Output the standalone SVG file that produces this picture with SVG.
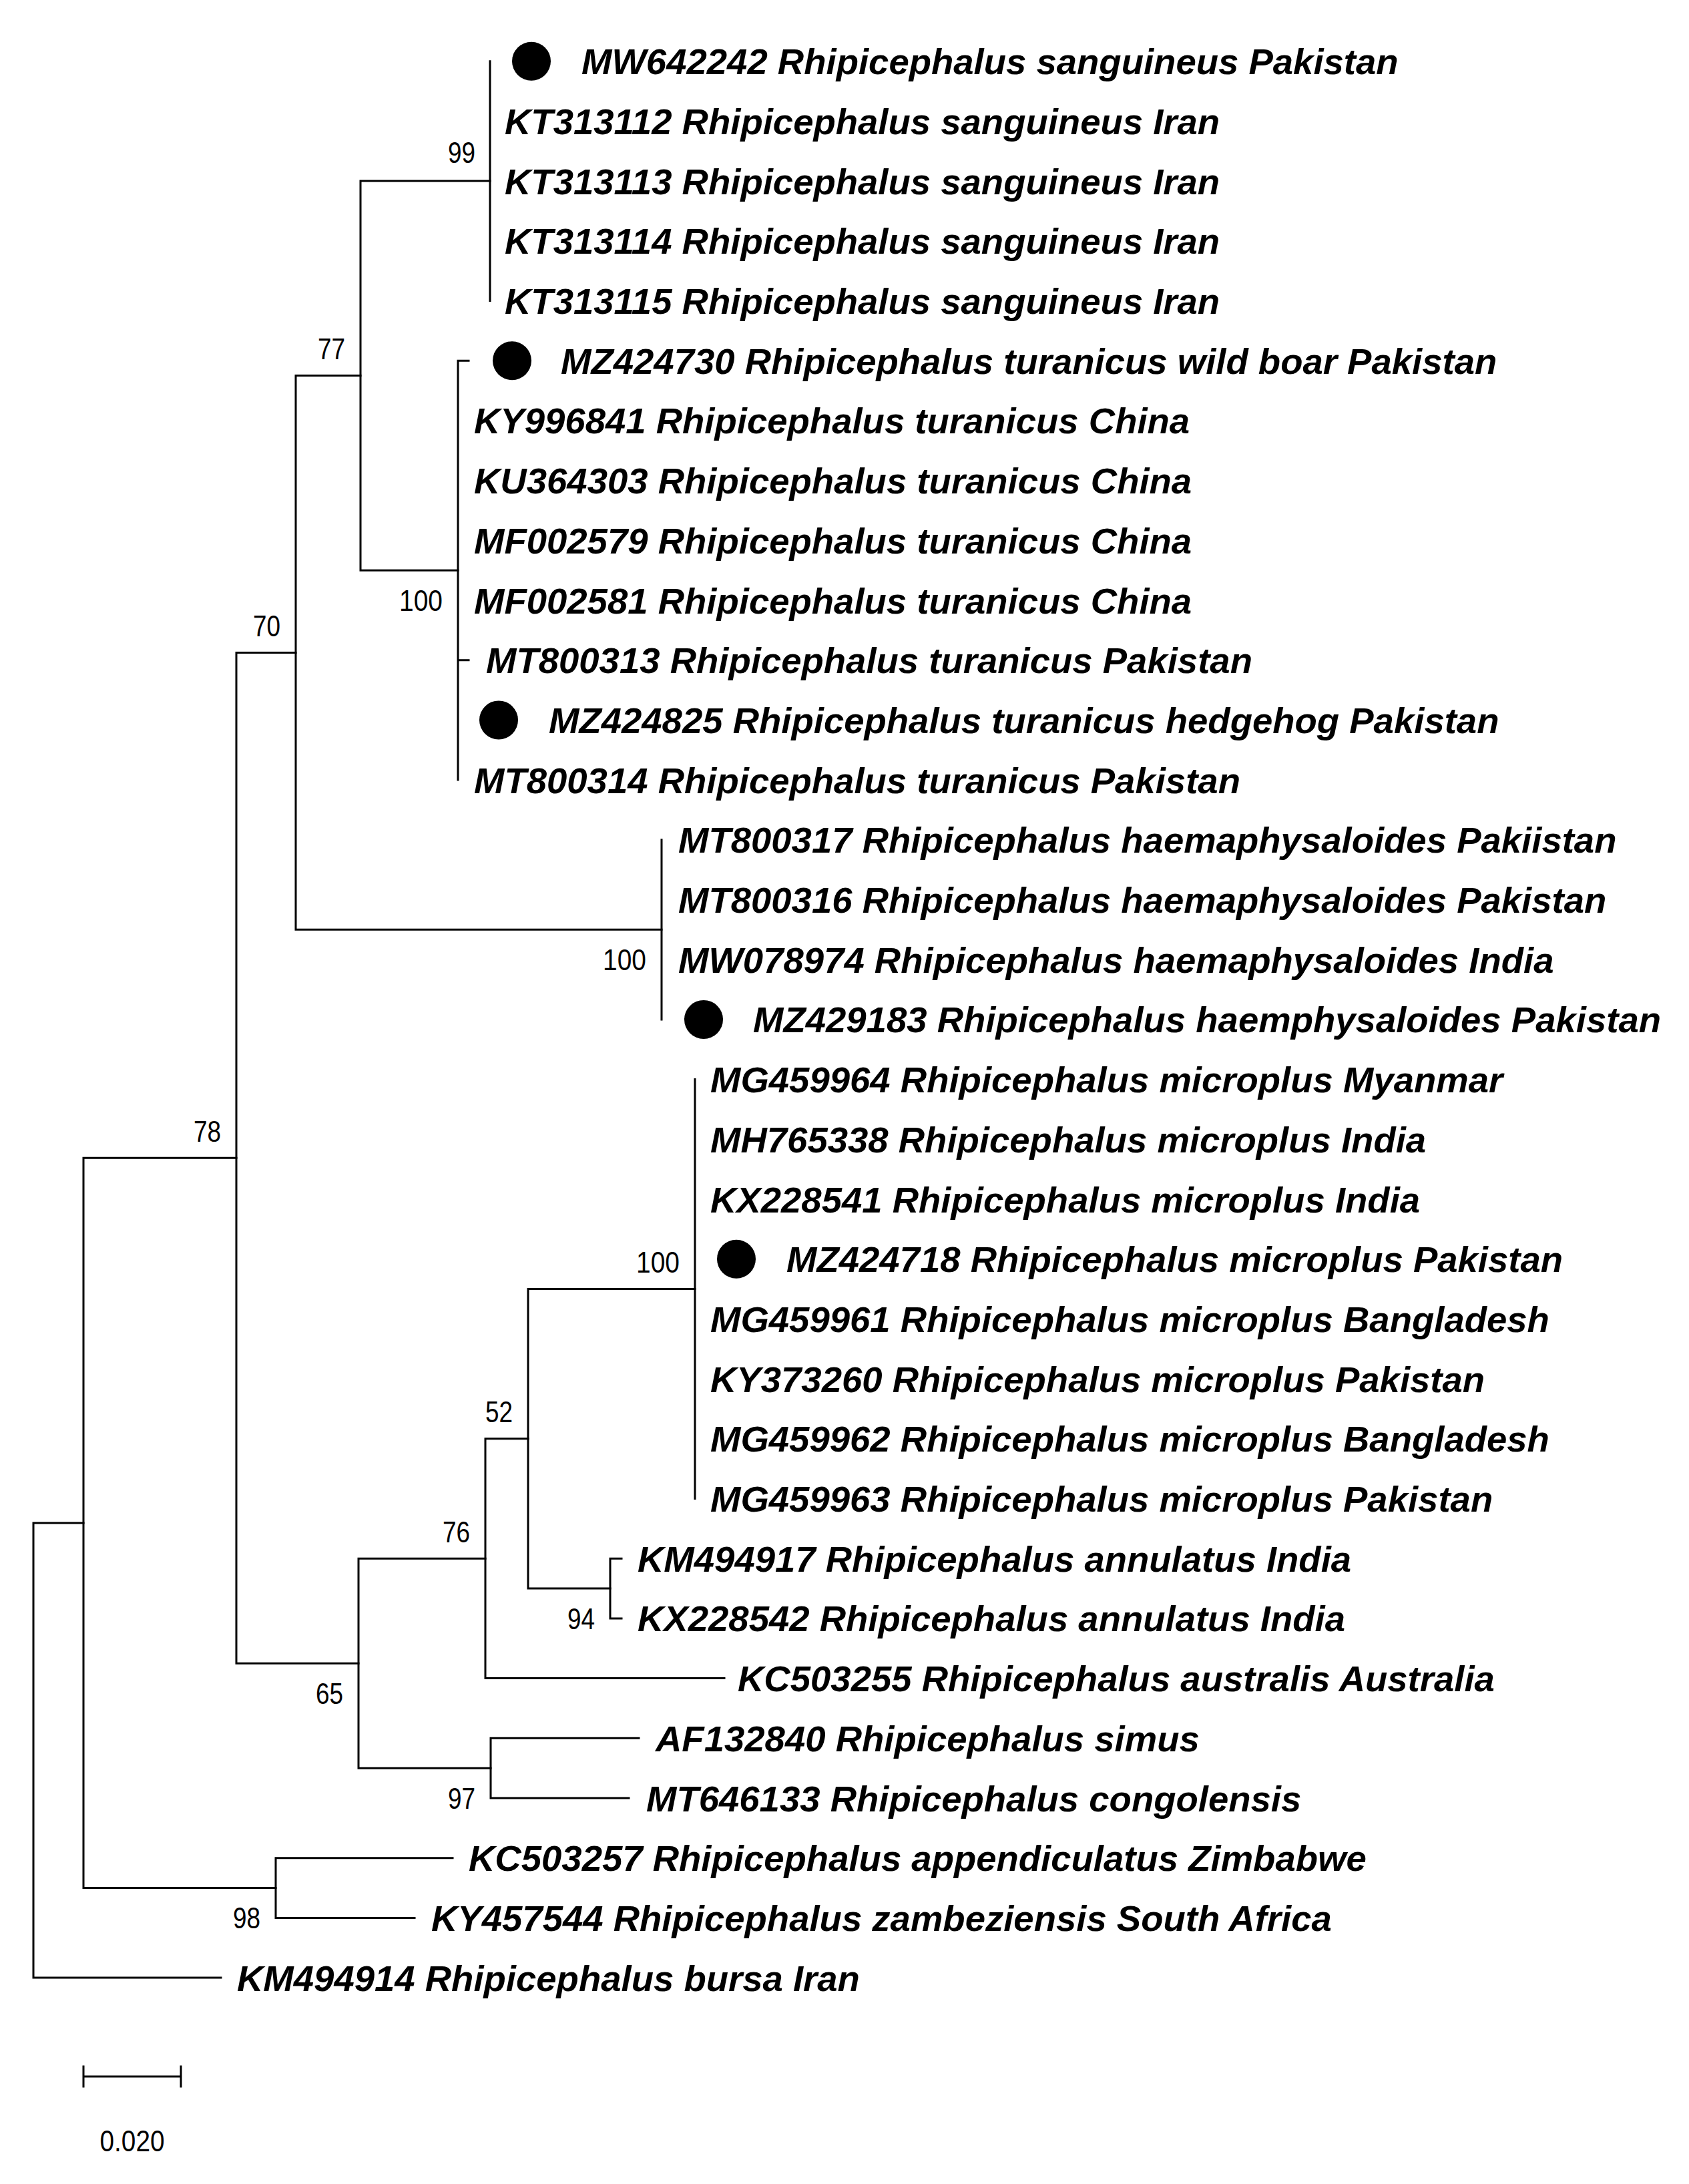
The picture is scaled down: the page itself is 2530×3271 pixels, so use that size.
<svg xmlns="http://www.w3.org/2000/svg" width="2530" height="3271" viewBox="0 0 2530 3271">
<style>
.br{stroke:#000;stroke-width:3;fill:none;stroke-linecap:square}
.tip{font-family:"Liberation Sans",Arial,sans-serif;font-weight:bold;font-style:italic;font-size:54.5px;fill:#000}
.bs{font-family:"Liberation Sans",Arial,sans-serif;font-size:45px;fill:#000;text-anchor:end}
.dot{fill:#000}
</style>
<rect width="2530" height="3271" fill="#fff"/>
<g id="connectors">
<path class="br" d="M50,2280.95V2962.1 M50,2280.95H125 M50,2962.1H331"/>
<path class="br" d="M125,1734.35V2827.55 M125,1734.35H354 M125,2827.55H413"/>
<path class="br" d="M354,977.5V2491.2 M354,977.5H443 M354,2491.2H537"/>
<path class="br" d="M443,562.6V1392.35 M443,562.6H540 M443,1392.35H991"/>
<path class="br" d="M540,271.1V854.15 M540,271.1H734 M540,854.15H686"/>
<path class="br" d="M734,91.7V450.5"/>
<path class="br" d="M686,540.2V1168.1 M686,540.2H702 M686,988.7H702"/>
<path class="br" d="M991,1257.8V1526.9"/>
<path class="br" d="M537,2334.2V2648.15 M537,2334.2H727 M537,2648.15H735"/>
<path class="br" d="M727,2154.8V2513.6 M727,2154.8H791 M727,2513.6H1085"/>
<path class="br" d="M791,1930.55V2379.05 M791,1930.55H1041 M791,2379.05H914"/>
<path class="br" d="M1041,1616.6V2244.5"/>
<path class="br" d="M914,2334.2V2423.9 M914,2334.2H931 M914,2423.9H931"/>
<path class="br" d="M735,2603.3V2693 M735,2603.3H957 M735,2693H942"/>
<path class="br" d="M413,2782.7V2872.4 M413,2782.7H678 M413,2872.4H621"/>
</g>
<g id="bootstrap">
<text id="bs99" class="bs" x="712" y="244" textLength="41" lengthAdjust="spacingAndGlyphs">99</text>
<text id="bs77" class="bs" x="517" y="538" textLength="41" lengthAdjust="spacingAndGlyphs">77</text>
<text id="bs70" class="bs" x="420" y="953" textLength="41" lengthAdjust="spacingAndGlyphs">70</text>
<text id="bs100t" class="bs" x="663" y="915" textLength="65" lengthAdjust="spacingAndGlyphs">100</text>
<text id="bs100h" class="bs" x="968" y="1453" textLength="65" lengthAdjust="spacingAndGlyphs">100</text>
<text id="bs78" class="bs" x="331" y="1710" textLength="41" lengthAdjust="spacingAndGlyphs">78</text>
<text id="bs100m" class="bs" x="1018" y="1906" textLength="65" lengthAdjust="spacingAndGlyphs">100</text>
<text id="bs52" class="bs" x="768" y="2130" textLength="41" lengthAdjust="spacingAndGlyphs">52</text>
<text id="bs76" class="bs" x="704" y="2310" textLength="41" lengthAdjust="spacingAndGlyphs">76</text>
<text id="bs65" class="bs" x="514" y="2552" textLength="41" lengthAdjust="spacingAndGlyphs">65</text>
<text id="bs94" class="bs" x="891" y="2440" textLength="41" lengthAdjust="spacingAndGlyphs">94</text>
<text id="bs97" class="bs" x="712" y="2709" textLength="41" lengthAdjust="spacingAndGlyphs">97</text>
<text id="bs98" class="bs" x="390" y="2888" textLength="41" lengthAdjust="spacingAndGlyphs">98</text>
</g>
<g id="tips">
<g id="t0"><circle class="dot" cx="796" cy="91.7" r="29"/><text class="tip" x="871" y="111.2">MW642242 Rhipicephalus sanguineus Pakistan</text></g>
<g id="t1"><text class="tip" x="756" y="200.9">KT313112 Rhipicephalus sanguineus Iran</text></g>
<g id="t2"><text class="tip" x="756" y="290.6">KT313113 Rhipicephalus sanguineus Iran</text></g>
<g id="t3"><text class="tip" x="756" y="380.3">KT313114 Rhipicephalus sanguineus Iran</text></g>
<g id="t4"><text class="tip" x="756" y="470">KT313115 Rhipicephalus sanguineus Iran</text></g>
<g id="t5"><circle class="dot" cx="767" cy="540.2" r="29"/><text class="tip" x="840" y="559.7">MZ424730 Rhipicephalus turanicus wild boar Pakistan</text></g>
<g id="t6"><text class="tip" x="710" y="649.4">KY996841 Rhipicephalus turanicus China</text></g>
<g id="t7"><text class="tip" x="710" y="739.1">KU364303 Rhipicephalus turanicus China</text></g>
<g id="t8"><text class="tip" x="710" y="828.8">MF002579 Rhipicephalus turanicus China</text></g>
<g id="t9"><text class="tip" x="710" y="918.5">MF002581 Rhipicephalus turanicus China</text></g>
<g id="t10"><text class="tip" x="728" y="1008.2">MT800313 Rhipicephalus turanicus Pakistan</text></g>
<g id="t11"><circle class="dot" cx="747" cy="1078.4" r="29"/><text class="tip" x="822" y="1097.9">MZ424825 Rhipicephalus turanicus hedgehog Pakistan</text></g>
<g id="t12"><text class="tip" x="710" y="1187.6">MT800314 Rhipicephalus turanicus Pakistan</text></g>
<g id="t13"><text class="tip" x="1016" y="1277.3">MT800317 Rhipicephalus haemaphysaloides Pakiistan</text></g>
<g id="t14"><text class="tip" x="1016" y="1367">MT800316 Rhipicephalus haemaphysaloides Pakistan</text></g>
<g id="t15"><text class="tip" x="1016" y="1456.7">MW078974 Rhipicephalus haemaphysaloides India</text></g>
<g id="t16"><circle class="dot" cx="1054" cy="1526.9" r="29"/><text class="tip" x="1128" y="1546.4">MZ429183 Rhipicephalus haemphysaloides Pakistan</text></g>
<g id="t17"><text class="tip" x="1064" y="1636.1">MG459964 Rhipicephalus microplus Myanmar</text></g>
<g id="t18"><text class="tip" x="1064" y="1725.8">MH765338 Rhipicephalus microplus India</text></g>
<g id="t19"><text class="tip" x="1064" y="1815.5">KX228541 Rhipicephalus microplus India</text></g>
<g id="t20"><circle class="dot" cx="1103" cy="1885.7" r="29"/><text class="tip" x="1178" y="1905.2">MZ424718 Rhipicephalus microplus Pakistan</text></g>
<g id="t21"><text class="tip" x="1064" y="1994.9">MG459961 Rhipicephalus microplus Bangladesh</text></g>
<g id="t22"><text class="tip" x="1064" y="2084.6">KY373260 Rhipicephalus microplus Pakistan</text></g>
<g id="t23"><text class="tip" x="1064" y="2174.3">MG459962 Rhipicephalus microplus Bangladesh</text></g>
<g id="t24"><text class="tip" x="1064" y="2264">MG459963 Rhipicephalus microplus Pakistan</text></g>
<g id="t25"><text class="tip" x="955" y="2353.7">KM494917 Rhipicephalus annulatus India</text></g>
<g id="t26"><text class="tip" x="955" y="2443.4">KX228542 Rhipicephalus annulatus India</text></g>
<g id="t27"><text class="tip" x="1105" y="2533.1">KC503255 Rhipicephalus australis Australia</text></g>
<g id="t28"><text class="tip" x="982" y="2622.8">AF132840 Rhipicephalus simus</text></g>
<g id="t29"><text class="tip" x="968" y="2712.5">MT646133 Rhipicephalus congolensis</text></g>
<g id="t30"><text class="tip" x="702" y="2802.2">KC503257 Rhipicephalus appendiculatus Zimbabwe</text></g>
<g id="t31"><text class="tip" x="646" y="2891.9">KY457544 Rhipicephalus zambeziensis South Africa</text></g>
<g id="t32"><text class="tip" x="355" y="2981.6">KM494914 Rhipicephalus bursa Iran</text></g>
</g>
<g id="scalebar">
<path class="br" d="M125,3110H271 M125,3095V3125 M271,3095V3125"/>
<text class="bs" x="198" y="3222" style="text-anchor:middle" textLength="97" lengthAdjust="spacingAndGlyphs">0.020</text>
</g>
</svg>
